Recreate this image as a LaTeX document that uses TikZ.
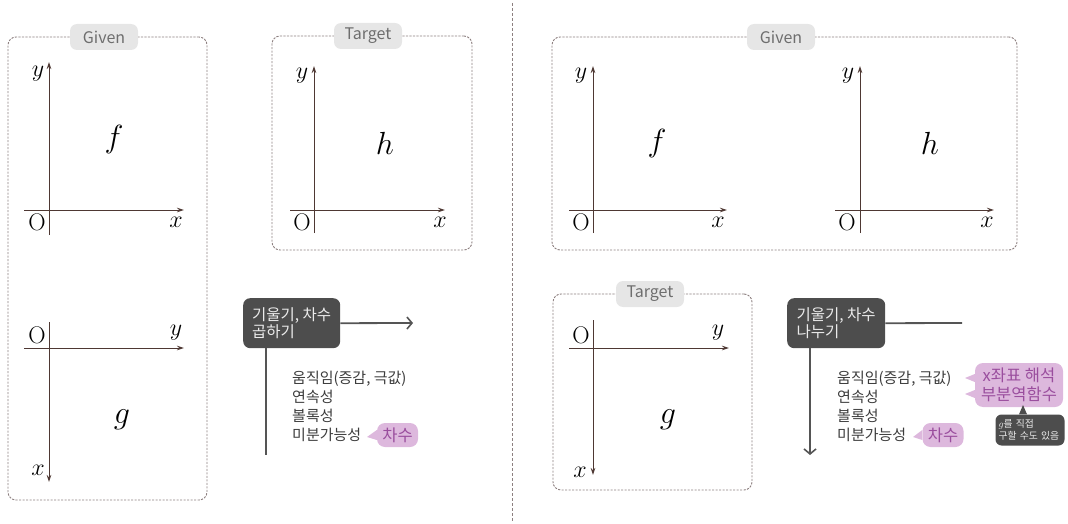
\RequirePackage{fix-cm}
\documentclass[tikz,border=0pt]{standalone}
\usepackage{fontspec}
\newfontfamily\kr{Noto Sans CJK KR}
\usetikzlibrary{arrows.meta}
\definecolor{dashcol}{HTML}{8C7F7F}
\definecolor{axiscol}{HTML}{4E3833}
\definecolor{boxdark}{HTML}{4D4D4D}
\definecolor{conncol}{HTML}{555555}
\definecolor{pinkfill}{HTML}{DDB8DD}
\definecolor{pinktext}{HTML}{9A4E9E}
\definecolor{pillfill}{HTML}{E6E6E6}
\definecolor{pilltext}{HTML}{6E6E6E}
\definecolor{listtext}{HTML}{3C3C3C}
\tikzset{
  dashbox/.style={draw=dashcol, line width=0.9pt, dash pattern=on 2.2pt off 1.3pt, rounded corners=8pt, inner sep=0pt},
  pill/.style={fill=pillfill, text=pilltext, rounded corners=7pt, minimum width=68pt, minimum height=26pt, inner sep=0pt, font=\kr\fontsize{16}{16}\selectfont},
  axis/.style={draw=axiscol, line width=1pt},
  axarr/.style={axis, -{Stealth[length=7pt,width=4.5pt]}},
  lab/.style={inner sep=0pt, font=\fontsize{24}{24}\selectfont},
  fn/.style={inner sep=0pt, font=\fontsize{32}{32}\selectfont},
  darkbox/.style={fill=boxdark, text=white!92!black, rounded corners=7pt, align=left, inner sep=0pt, minimum height=50pt, font=\kr\fontsize{15.5}{18.5}\selectfont},
  conn/.style={draw=conncol, line width=1.8pt},
  barb/.style={-{Straight Barb[length=5pt,width=12pt,line width=1.6pt]}},
  listtxt/.style={align=left, inner sep=0pt, text=listtext, font=\kr\fontsize{15}{19}\selectfont},
  pinkbox/.style={fill=pinkfill, text=pinktext, rounded corners=8pt, inner sep=0pt, align=center, font=\kr\fontsize{16.5}{19.5}\selectfont},
  note/.style={fill=boxdark, text=white!92!black, rounded corners=6pt, inner sep=0pt, align=left, font=\kr\fontsize{9.8}{12.5}\selectfont},
  divider/.style={draw=dashcol, line width=1pt, dash pattern=on 3pt off 2pt}
}
\begin{document}
\begin{tikzpicture}[x=1pt,y=-1pt]
\useasboundingbox (0,0) rectangle (1068,524);

% divider
\coordinate (dvt) at (512,3);
\coordinate (dvb) at (512,521);
\draw[divider] (dvt) -- (dvb);

% ===== LEFT PANEL =====
\node[dashbox, minimum width=199pt, minimum height=463pt] (givenL) at (107.5,268.5) {};
\node[pill] (givenLlab) at (104,37) {Given};

% f axes
\coordinate (fLx0) at (24,210); \coordinate (fLx1) at (184,210);
\coordinate (fLy0) at (49,235); \coordinate (fLy1) at (49,62);
\draw[axarr] (fLx0) -- (fLx1);
\draw[axarr] (fLy0) -- (fLy1);
\node[lab] (fLy) at (38,74) {$y$};
\node[lab] (fLO) at (37,222) {O};
\node[lab] (fLx) at (176,222) {$x$};
\node[fn] (fLf) at (114,140) {$f$};

% g axes (left)
\coordinate (gLx0) at (24,348); \coordinate (gLx1) at (184,348);
\coordinate (gLy0) at (49,322); \coordinate (gLy1) at (49,482);
\draw[axarr] (gLx0) -- (gLx1);
\draw[axarr] (gLy0) -- (gLy1);
\node[lab] (gLO) at (37,335) {O};
\node[lab] (gLy) at (176,333) {$y$};
\node[lab] (gLx) at (38,470) {$x$};
\node[fn] (gLg) at (122,420) {$g$};

% Target (top middle)
\node[dashbox, minimum width=200pt, minimum height=214pt] (targetL) at (372,143) {};
\node[pill] (targetLlab) at (368,36) {Target};
\coordinate (hLx0) at (290,210); \coordinate (hLx1) at (445,210);
\coordinate (hLy0) at (314,233); \coordinate (hLy1) at (314,66);
\draw[axarr] (hLx0) -- (hLx1);
\draw[axarr] (hLy0) -- (hLy1);
\node[lab] (hLy) at (302,76) {$y$};
\node[lab] (hLO) at (302,222) {O};
\node[lab] (hLx) at (440,222) {$x$};
\node[fn] (hLh) at (385,143) {$h$};

% multiply box
\node[darkbox, anchor=north west, minimum width=97pt] (mulbox) at (243,298) {기울기, 차수\\[-1pt]곱하기};
\coordinate (mulR) at (413,323);
\draw[conn, barb] (mulbox.east) -- (mulR);
\coordinate (mulD) at (266,455);
\draw[conn] (mulD |- mulbox.south) -- (mulD);
\node[listtxt, anchor=north west] (mullist) at (292,371) {움직임(증감, 극값)\\연속성\\볼록성\\미분가능성};
\node[pinkbox, minimum width=41pt, minimum height=24pt] (mulcha) at (397.5,435) {차수};
\coordinate (mulchaTip) at (367,437);
\fill[pinkfill] (mulchaTip) -- ([yshift=-5pt]mulcha.west) -- ([yshift=5pt]mulcha.west) -- cycle;

% ===== RIGHT PANEL =====
\node[dashbox, minimum width=465pt, minimum height=213pt] (givenR) at (784.5,143.5) {};
\node[pill] (givenRlab) at (781,37) {Given};

\coordinate (fRx0) at (569,210); \coordinate (fRx1) at (727,210);
\coordinate (fRy0) at (593,233); \coordinate (fRy1) at (593,66);
\draw[axarr] (fRx0) -- (fRx1);
\draw[axarr] (fRy0) -- (fRy1);
\node[lab] (fRy) at (581,76) {$y$};
\node[lab] (fRO) at (581,222) {O};
\node[lab] (fRx) at (718,222) {$x$};
\node[fn] (fRf) at (657,143) {$f$};

\coordinate (hRx0) at (835,210); \coordinate (hRx1) at (994,210);
\coordinate (hRy0) at (860,233); \coordinate (hRy1) at (860,66);
\draw[axarr] (hRx0) -- (hRx1);
\draw[axarr] (hRy0) -- (hRy1);
\node[lab] (hRy) at (848,76) {$y$};
\node[lab] (hRO) at (847,222) {O};
\node[lab] (hRx) at (987,222) {$x$};
\node[fn] (hRh) at (930,143) {$h$};

% Target (bottom right panel)
\node[dashbox, minimum width=199pt, minimum height=196pt] (targetR) at (652.5,392) {};
\node[pill] (targetRlab) at (650,294) {Target};
\coordinate (gRx0) at (569,348); \coordinate (gRx1) at (729,348);
\coordinate (gRy0) at (593,320); \coordinate (gRy1) at (593,475);
\draw[axarr] (gRx0) -- (gRx1);
\draw[axarr] (gRy0) -- (gRy1);
\node[lab] (gRO) at (581,335) {O};
\node[lab] (gRy) at (718,333) {$y$};
\node[lab] (gRx) at (580,472) {$x$};
\node[fn] (gRg) at (668,420) {$g$};

% divide box
\node[darkbox, anchor=north west, minimum width=98pt] (divbox) at (787,298) {기울기, 차수\\[-1pt]나누기};
\coordinate (divR) at (962,323);
\draw[conn] (divbox.east) -- (divR);
\coordinate (divD) at (810,455);
\draw[conn, barb] (divD |- divbox.south) -- (divD);
\node[listtxt, anchor=north west] (divlist) at (837,371) {움직임(증감, 극값)\\연속성\\볼록성\\미분가능성};
\node[pinkbox, minimum width=41pt, minimum height=24pt] (divcha) at (943,435) {차수};
\coordinate (divchaTip) at (913,437);
\fill[pinkfill] (divchaTip) -- ([yshift=-5pt]divcha.west) -- ([yshift=5pt]divcha.west) -- cycle;

\node[pinkbox, minimum width=88pt, minimum height=44pt] (xbox) at (1019,385) {x좌표 해석\\부분역함수};
\coordinate (xtip1) at (965,378);
\coordinate (xtip2) at (965,394);
\fill[pinkfill] (xtip1) -- ([yshift=-4pt]xbox.west |- xtip1) -- ([yshift=4pt]xbox.west |- xtip1) -- cycle;
\fill[pinkfill] (xtip2) -- ([yshift=-4pt]xbox.west |- xtip2) -- ([yshift=4pt]xbox.west |- xtip2) -- cycle;

\node[note, minimum width=69pt, minimum height=31pt, text width=63pt] (gnote) at (1030,430) {$g$를 직접\\구할 수도 있음};
\coordinate (notetip) at (1023,405);
\fill[boxdark] (notetip) -- ([xshift=-4pt]notetip |- gnote.north) -- ([xshift=4pt]notetip |- gnote.north) -- cycle;
\end{tikzpicture}
\end{document}
